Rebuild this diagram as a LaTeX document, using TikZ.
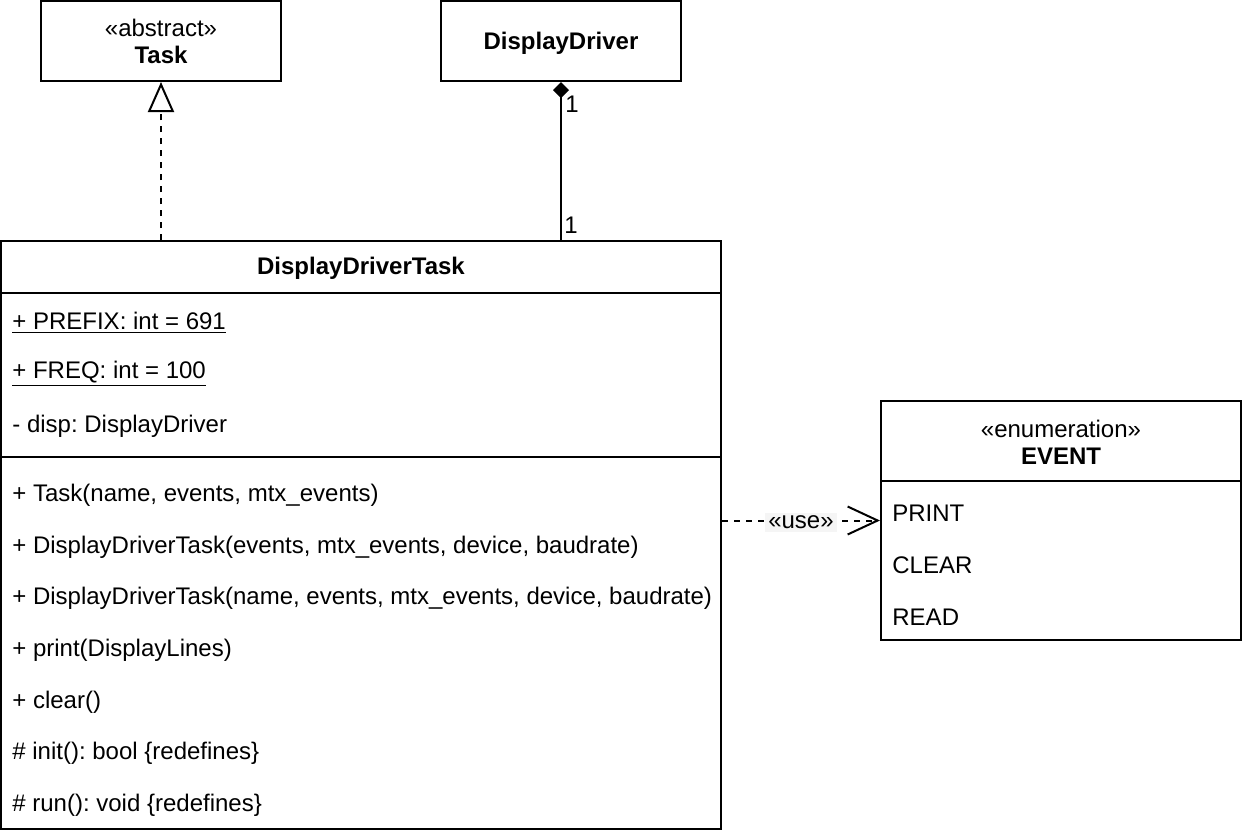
\documentclass[tikz,border=0pt]{standalone}
\usepackage{fontspec}
\setmainfont{Liberation Sans}
\usetikzlibrary{arrows.meta}
\frenchspacing

\tikzset{
  umlbox/.style={draw, line width=1pt, inner sep=0pt, align=center},
  member/.style={anchor=west, inner sep=0pt},
  divider/.style={line width=1pt},
  realize/.style={line width=1pt, dash pattern=on 3pt off 3pt, -{Triangle[open, length=15pt, width=13pt]}},
  compose/.style={line width=1pt, -{Diamond[length=8pt, width=8pt]}},
  depend/.style={line width=1pt, dash pattern=on 3pt off 3pt, -{Straight Barb[length=15pt, width=14pt]}},
  uselabel/.style={fill=gray!8, inner sep=1.5pt, yshift=-1pt},
  mult/.style={anchor=west, inner sep=0pt}
}

\begin{document}
\begin{tikzpicture}[x=0.5pt, y=-0.5pt, font=\fontsize{12}{13.5}\selectfont]
\useasboundingbox (0,0) rectangle (1244,836);

% classes
\node[umlbox, minimum width=120pt, minimum height=40pt] (task) at (161,41) {«abstract»\\\textbf{Task}};
\node[umlbox, minimum width=120pt, minimum height=40pt, text depth=0pt] (driver) at (561,41) {\textbf{DisplayDriver}};
\node[umlbox, minimum width=360pt, minimum height=294pt] (ddtask) at (361,535) {};
\node[umlbox, minimum width=180pt, minimum height=119.5pt] (event) at (1061,520.5) {};

% DisplayDriverTask compartments
\node (ddname) at (361,268) {\textbf{DisplayDriverTask}};
\draw[divider] (ddtask.west |- 0,293) -- (ddtask.east |- 0,293);
\draw[divider] (ddtask.west |- 0,457) -- (ddtask.east |- 0,457);
\node[member] (a1) at (12,323) {\underline{+ PREFIX: int = 691}};
\node[member] (a2) at (12,374) {\underline{+ FREQ: int = 100}};
\node[member] (a3) at (12,426) {- disp: DisplayDriver};
\foreach \txt [count=\i] in {{+ Task(name, events, mtx\_events)},
    {+ DisplayDriverTask(events, mtx\_events, device, baudrate)},
    {+ DisplayDriverTask(name, events, mtx\_events, device, baudrate)},
    {+ print(DisplayLines)}, {+ clear()},
    {\# init(): bool \{redefines\}}, {\# run(): void \{redefines\}}} {
  \node[member] (op\i) at (12,443.5+51.7*\i) {\txt};
}

% EVENT compartments
\node[align=center] (evname) at (1061,442) {«enumeration»\\\textbf{EVENT}};
\draw[divider] (event.west |- 0,481) -- (event.east |- 0,481);
\foreach \txt [count=\i] in {PRINT, CLEAR, READ} {
  \node[member] (lit\i) at (892,461+52*\i) {\txt};
}

% relations
\draw[realize] (task.south |- ddtask.north) -- (task.south);
\draw[compose] (driver.south |- ddtask.north) -- (driver.south);
\node[mult] (m1) at (565,104) {1};
\node[mult] (m2) at (564,225) {1};
\draw[depend] (ddtask.east |- event.west) -- node[uselabel] (use) {«use»} (event.west);
\end{tikzpicture}
\end{document}
